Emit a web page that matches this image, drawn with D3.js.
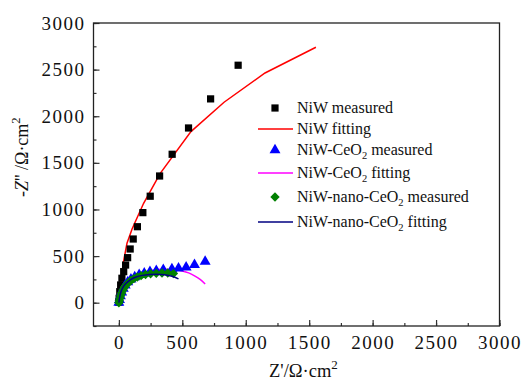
<!DOCTYPE html>
<html><head><meta charset="utf-8">
<script src="https://cdn.jsdelivr.net/npm/d3@7"></script>
<style>body{margin:0;background:#fff}</style>
</head><body><svg id="c" width="521" height="382"></svg>
<script>
// ---- data (Ω·cm²) ----
const niwMeasured = [[0,5],[2,47],[7,118],[14,190],[24,262],[38,333],[53,404],[69,483],[89,576],[113,683],[146,815],[189,966],[247,1142],[321,1359],[420,1592],[549,1874],[723,2186],[940,2547]];
const niwFit = [[0,0],[3,60],[8,140],[15,230],[25,330],[42,480],[64,637],[104,790],[195,1066],[326,1388],[568,1835],[829,2150],[1152,2464],[1553,2740]];
const ceo2Measured = [[0,0],[5,30],[12,70],[22,110],[35,150],[50,185],[70,220],[95,250],[125,275],[160,298],[200,315],[245,330],[295,342],[350,352],[418,360],[470,369],[530,380],[596,405],[680,440]];
const ceo2Fit = [[0,0],[10,60],[25,120],[50,180],[90,240],[140,290],[200,325],[270,348],[350,358],[430,355],[500,340],[550,320],[600,285],[640,250],[680,200]];
const nanoMeasured = [[0,0],[3,20],[8,45],[14,75],[22,105],[32,135],[44,165],[58,190],[75,215],[95,238],[118,258],[145,275],[175,290],[210,302],[250,310],[295,315],[340,318],[385,318],[430,312]];
const nanoFit = [[0,0],[5,50],[15,110],[30,160],[55,205],[90,245],[135,275],[185,293],[240,302],[300,305],[360,300],[420,283],[470,255]];
const xTicks = [0,500,1000,1500,2000,2500,3000];
const yTicks = [0,500,1000,1500,2000,2500,3000];

const FONT = "'Liberation Serif','DejaVu Serif','Times New Roman',serif";
const svg = d3.select("#c").attr("font-family",FONT);
const L=93.5, R=499.5, T=23, B=326;
const x = d3.scaleLinear().domain([-200,3000]).range([L,R]);
const y = d3.scaleLinear().domain([-250,3000]).range([B,T]);

// axes
const minorX = d3.range(-250,3001,250).filter(v=>v>=-200);
const minorY = d3.range(-250,3001,250);
svg.append("g").attr("transform",`translate(0,${B})`)
  .call(d3.axisBottom(x).tickValues(minorX).tickSizeInner(-3).tickSizeOuter(0).tickFormat(""))
  .call(g=>g.select(".domain").remove());
svg.append("g").attr("transform",`translate(${L},0)`)
  .call(d3.axisLeft(y).tickValues(minorY).tickSizeInner(-3).tickSizeOuter(0).tickFormat(""))
  .call(g=>g.select(".domain").remove());
const gx = svg.append("g").attr("transform",`translate(0,${B})`)
  .call(d3.axisBottom(x).tickValues(xTicks).tickSizeInner(-6).tickSizeOuter(0).tickPadding(10).tickFormat(d3.format("d")));
gx.select(".domain").remove();
const gy = svg.append("g").attr("transform",`translate(${L},0)`)
  .call(d3.axisLeft(y).tickValues(yTicks).tickSizeInner(-6).tickSizeOuter(0).tickPadding(8).tickFormat(d3.format("d")));
gy.select(".domain").remove();
svg.selectAll("g").attr("font-family",FONT);
svg.selectAll(".tick text").attr("font-family",FONT).attr("font-size",19).attr("letter-spacing","1.5px").attr("fill","#111");
svg.selectAll(".tick line").attr("stroke","#333").attr("stroke-width",1.2);
svg.append("rect").attr("x",L).attr("y",T).attr("width",R-L).attr("height",B-T)
  .attr("fill","none").attr("stroke","#222").attr("stroke-width",1.3);

// axis titles
const xt = svg.append("text").attr("x",269).attr("y",377).attr("font-size",18.5).attr("font-family",FONT).attr("fill","#111");
xt.append("tspan").text("Z'/Ω·cm");
xt.append("tspan").attr("dy",-8).attr("font-size",13).text("2");
const yt = svg.append("text").attr("transform","translate(28,197) rotate(-90)").attr("font-size",18).attr("font-family",FONT).attr("fill","#111");
yt.append("tspan").text("-");
yt.append("tspan").attr("font-style","italic").text("Z");
yt.append("tspan").text("'' /Ω·cm");
yt.append("tspan").attr("dy",-8).attr("font-size",12.5).text("2");

// series
const line = d3.line().x(d=>x(d[0])).y(d=>y(d[1]));
const smooth = d3.line().x(d=>x(d[0])).y(d=>y(d[1])).curve(d3.curveCatmullRom);
svg.append("path").datum(niwFit).attr("d",line).attr("fill","none").attr("stroke","#ff0000").attr("stroke-width",1.5);
svg.append("path").datum(ceo2Fit).attr("d",smooth).attr("fill","none").attr("stroke","#ff00ff").attr("stroke-width",1.5);

const sq = d3.symbol().type(d3.symbolSquare).size(52);
const tri = d3.symbol().type(d3.symbolTriangle).size(52);
const dia = d3.symbol().type(d3.symbolSquare).size(44);
svg.append("g").selectAll("path").data(niwMeasured).join("path")
  .attr("d",sq).attr("transform",d=>`translate(${x(d[0])},${y(d[1])})`).attr("fill","#000");
svg.append("g").selectAll("path").data(ceo2Measured).join("path")
  .attr("d",tri).attr("transform",d=>`translate(${x(d[0])},${y(d[1])})`).attr("fill","#0000ff");
svg.append("g").selectAll("path").data(nanoMeasured).join("path")
  .attr("d",dia).attr("transform",d=>`translate(${x(d[0])},${y(d[1])}) rotate(45)`).attr("fill","#008000");
svg.append("path").datum(nanoFit).attr("d",smooth).attr("fill","none").attr("stroke","#000080").attr("stroke-width",1.5);

// legend
const legend = [
  {t:["NiW measured"], sym:sq, c:"#000", yy:108},
  {t:["NiW fitting"], line:true, c:"#ff0000", yy:129},
  {t:["NiW-CeO","2"," measured"], sym:tri, c:"#0000ff", yy:150},
  {t:["NiW-CeO","2"," fitting"], line:true, c:"#ff00ff", yy:173},
  {t:["NiW-nano-CeO","2"," measured"], sym:dia, c:"#008000", yy:197, rot:45},
  {t:["NiW-nano-CeO","2"," fitting"], line:true, c:"#000080", yy:222}
];
legend.forEach(e=>{
  if(e.line) svg.append("line").attr("x1",258).attr("x2",293).attr("y1",e.yy).attr("y2",e.yy).attr("stroke",e.c).attr("stroke-width",1.5);
  else svg.append("path").attr("d",e.sym).attr("transform",`translate(275,${e.yy})`+(e.rot?` rotate(${e.rot})`:"")).attr("fill",e.c);
  const tx = svg.append("text").attr("x",297).attr("y",e.yy+5).attr("font-size",16).attr("font-family",FONT).attr("fill","#111");
  tx.append("tspan").text(e.t[0]);
  if(e.t.length>1){
    tx.append("tspan").attr("dy",4).attr("font-size",10.5).text(e.t[1]);
    tx.append("tspan").attr("dy",-4).text(e.t[2]);
  }
});
</script></body></html>
